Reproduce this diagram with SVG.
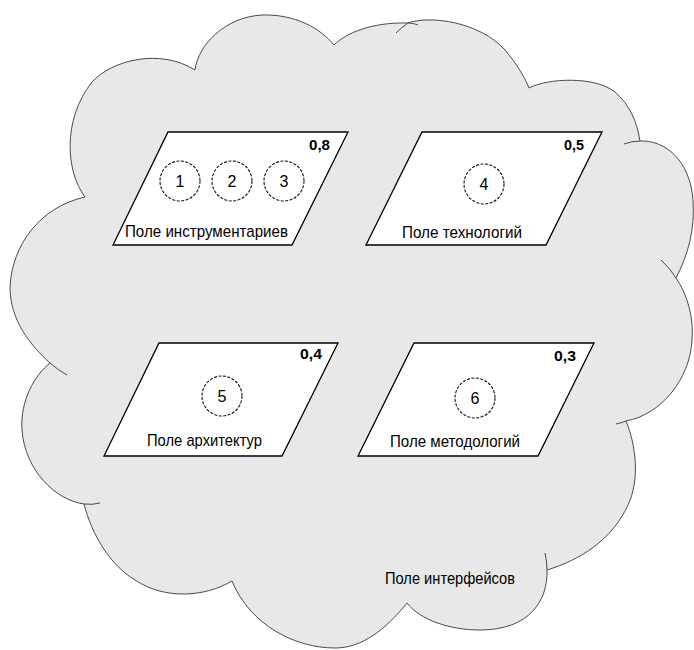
<svg xmlns="http://www.w3.org/2000/svg" width="694" height="650" viewBox="0 0 694 650">
<style>
.cloud{fill:#e8e8e8;stroke:#4a4a4a;stroke-width:1}
.tail{fill:none;stroke:#4a4a4a;stroke-width:1}
.para{fill:#ffffff;stroke:#000;stroke-width:1.3}
.circ{fill:none;stroke:#111;stroke-width:1.1;stroke-dasharray:3 1.5}
.lbl{font-family:"Liberation Sans Narrow","Liberation Sans",Arial,sans-serif;font-size:17px;fill:#000}
.num{font-family:"Liberation Sans",Arial,sans-serif;font-size:14.5px;font-weight:bold;fill:#000}
.dig{font-family:"Liberation Sans Narrow","Liberation Sans",Arial,sans-serif;font-size:16px;fill:#000;text-anchor:middle}
</style>
<rect x="0" y="0" width="694" height="650" fill="#ffffff"/>
<g id="cloud">
<path class="cloud" d="M85,197 C66,172 62,120 92,82 C112,60 160,48 195,70 C198,45 225,17 262,15 C295,14 320,28 334,45 C346,33 372,22 408,23 C430,15 480,22 505,50 C517,64 525,78 529,88 C548,78 595,76 615,92 C630,105 637,122 640,141 C665,140 690,160 693,200 C695,230 688,255 676,278 C688,295 694,320 692,340 C690,380 660,415 626,421 C636,445 640,480 628,505 C612,540 580,560 547,570 C548,600 530,630 480,630 C450,630 420,620 407,603 C385,630 362,648 335,648 C295,648 250,625 232,581 C205,597 165,600 135,580 C110,565 92,535 84,504 C55,500 25,470 22,430 C20,400 35,375 50,363 C30,345 10,320 10,287 C12,245 40,207 85,197 Z"/>
<path class="tail" d="M408,23 C412,23 415,24 418,25"/>
<path class="tail" d="M396,33 Q401,28 408,23"/>
<path class="tail" d="M624,144 Q632,141 640,141"/>
<path class="tail" d="M661,260 Q670,268 676,278"/>
<path class="tail" d="M626,421 Q621,423 616,424"/>
<path class="tail" d="M545,553 Q547,562 547,570"/>
<path class="tail" d="M84,504 Q92,505 100,503"/>
<path class="tail" d="M50,363 Q58,370 67,375"/>
<text class="lbl" x="385" y="584" textLength="130" lengthAdjust="spacingAndGlyphs">Поле интерфейсов</text>
</g>
<g id="connectors"/>
<g id="field-tools">
<polygon class="para" points="168,132 348,132 292,245 113,245"/>
<text class="num" x="309" y="150" textLength="21" lengthAdjust="spacingAndGlyphs">0,8</text>
<circle class="circ" cx="180" cy="181" r="20"/>
<circle class="circ" cx="232" cy="181" r="20"/>
<circle class="circ" cx="284" cy="181" r="20"/>
<text class="dig" x="180" y="187">1</text>
<text class="dig" x="232" y="187">2</text>
<text class="dig" x="284" y="187">3</text>
<text class="lbl" x="125" y="237" textLength="163" lengthAdjust="spacingAndGlyphs">Поле инструментариев</text>
</g>
<g id="field-tech">
<polygon class="para" points="422,132 602,132 546,245 366,245"/>
<text class="num" x="564" y="150" textLength="20" lengthAdjust="spacingAndGlyphs">0,5</text>
<circle class="circ" cx="484" cy="184" r="20"/>
<text class="dig" x="484" y="190">4</text>
<text class="lbl" x="402" y="238" textLength="120" lengthAdjust="spacingAndGlyphs">Поле технологий</text>
</g>
<g id="field-arch">
<polygon class="para" points="159,343 338,343 282,456 104,456"/>
<text class="num" x="300" y="359" textLength="22" lengthAdjust="spacingAndGlyphs">0,4</text>
<circle class="circ" cx="222" cy="396" r="20"/>
<text class="dig" x="222" y="402">5</text>
<text class="lbl" x="147" y="446" textLength="115" lengthAdjust="spacingAndGlyphs">Поле архитектур</text>
</g>
<g id="field-method">
<polygon class="para" points="414,343 594,343 538,456 358,456"/>
<text class="num" x="554" y="361" textLength="22" lengthAdjust="spacingAndGlyphs">0,3</text>
<circle class="circ" cx="475" cy="398" r="20"/>
<text class="dig" x="475" y="404">6</text>
<text class="lbl" x="390" y="447" textLength="130" lengthAdjust="spacingAndGlyphs">Поле методологий</text>
</g>
</svg>
